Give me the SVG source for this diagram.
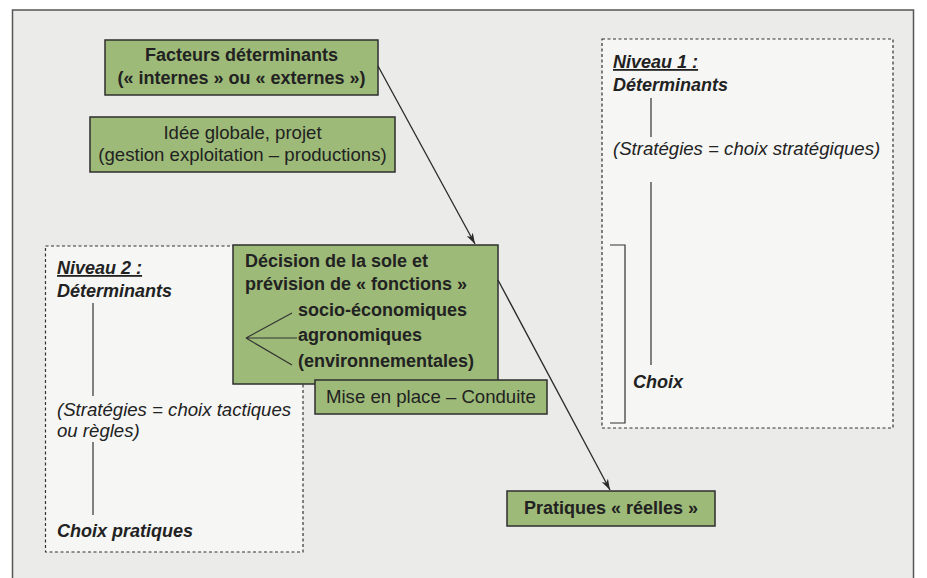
<svg xmlns="http://www.w3.org/2000/svg" width="927" height="578" viewBox="0 0 927 578">
<defs>
<marker id="arr" markerWidth="12" markerHeight="8" refX="11" refY="4" orient="auto" markerUnits="userSpaceOnUse">
<path d="M0,0.5 L11,4 L0,7.5 L3,4 Z" fill="#2a2a2a"/>
</marker>
</defs>
<style>
.box{fill:#9dba78;stroke:#2e2e2e;stroke-width:1.5}
.dash{fill:#f6f6f4;stroke:#333;stroke-width:1.2;stroke-dasharray:3,2.5}
.t{font-family:"Liberation Sans",Arial,sans-serif;font-size:18.6px;fill:#222}
.b{font-weight:bold;font-size:18px}
.i{font-style:italic}
.c{text-anchor:middle}
.ln{stroke:#333;stroke-width:1.2;fill:none}
.conn{stroke:#2a2a2a;stroke-width:1.3;fill:none}
</style>
<rect x="0" y="0" width="927" height="578" fill="#ffffff"/>
<rect x="12.5" y="10" width="901" height="580" fill="#ebebea" stroke="#555" stroke-width="1.5"/>

<g id="niveau1">
<rect class="dash" x="602" y="39" width="291" height="389"/>
<text class="t b i" x="613" y="68" text-decoration="underline">Niveau 1 :</text>
<text class="t b i" x="613" y="91">Déterminants</text>
<line class="ln" x1="651" y1="98" x2="651" y2="137"/>
<text class="t i" x="613" y="155">(Stratégies = choix stratégiques)</text>
<line class="ln" x1="651" y1="182" x2="651" y2="365"/>
<text class="t b i" x="633" y="388">Choix</text>
<path class="ln" d="M610,245 H625 V423 H610"/>
</g>

<g id="niveau2">
<rect class="dash" x="45.5" y="246" width="257.5" height="306"/>
<text class="t b i" x="57" y="274" text-decoration="underline">Niveau 2 :</text>
<text class="t b i" x="57" y="297">Déterminants</text>
<line class="ln" x1="93" y1="303" x2="93" y2="396"/>
<text class="t i" x="57" y="416">(Stratégies = choix tactiques</text>
<text class="t i" x="57" y="437">ou règles)</text>
<line class="ln" x1="93" y1="442" x2="93" y2="515"/>
<text class="t b i" x="57" y="537">Choix pratiques</text>
</g>

<g id="facteurs">
<rect class="box" x="105" y="40" width="273" height="55"/>
<text class="t b c" x="241.5" y="61">Facteurs déterminants</text>
<text class="t b c" x="241.5" y="84">(« internes » ou « externes »)</text>
</g>

<g id="idee">
<rect class="box" x="90" y="117" width="305" height="55"/>
<text class="t c" x="242.5" y="139">Idée globale, projet</text>
<text class="t c" x="242.5" y="161">(gestion exploitation – productions)</text>
</g>

<g id="decision">
<rect class="box" x="233" y="245" width="265" height="139"/>
<text class="t b" x="245" y="267">Décision de la sole et</text>
<text class="t b" x="245" y="290">prévision de « fonctions »</text>
<text class="t b" x="298" y="316">socio-économiques</text>
<text class="t b" x="298" y="341">agronomiques</text>
<text class="t b" x="298" y="367">(environnementales)</text>
<path class="ln" d="M292,313 L246,338 L297,338 M246,338 L292,365"/>
</g>

<g id="mise">
<rect class="box" x="315" y="380" width="232" height="34"/>
<text class="t" x="326" y="403">Mise en place – Conduite</text>
</g>

<g id="pratiques">
<rect class="box" x="507" y="491" width="208" height="35"/>
<text class="t b c" x="611" y="514">Pratiques « réelles »</text>
</g>

<g id="connectors">
<line class="conn" x1="378" y1="66" x2="475" y2="244" marker-end="url(#arr)"/>
<line class="conn" x1="498" y1="280" x2="610" y2="490" marker-end="url(#arr)"/>
</g>
</svg>
